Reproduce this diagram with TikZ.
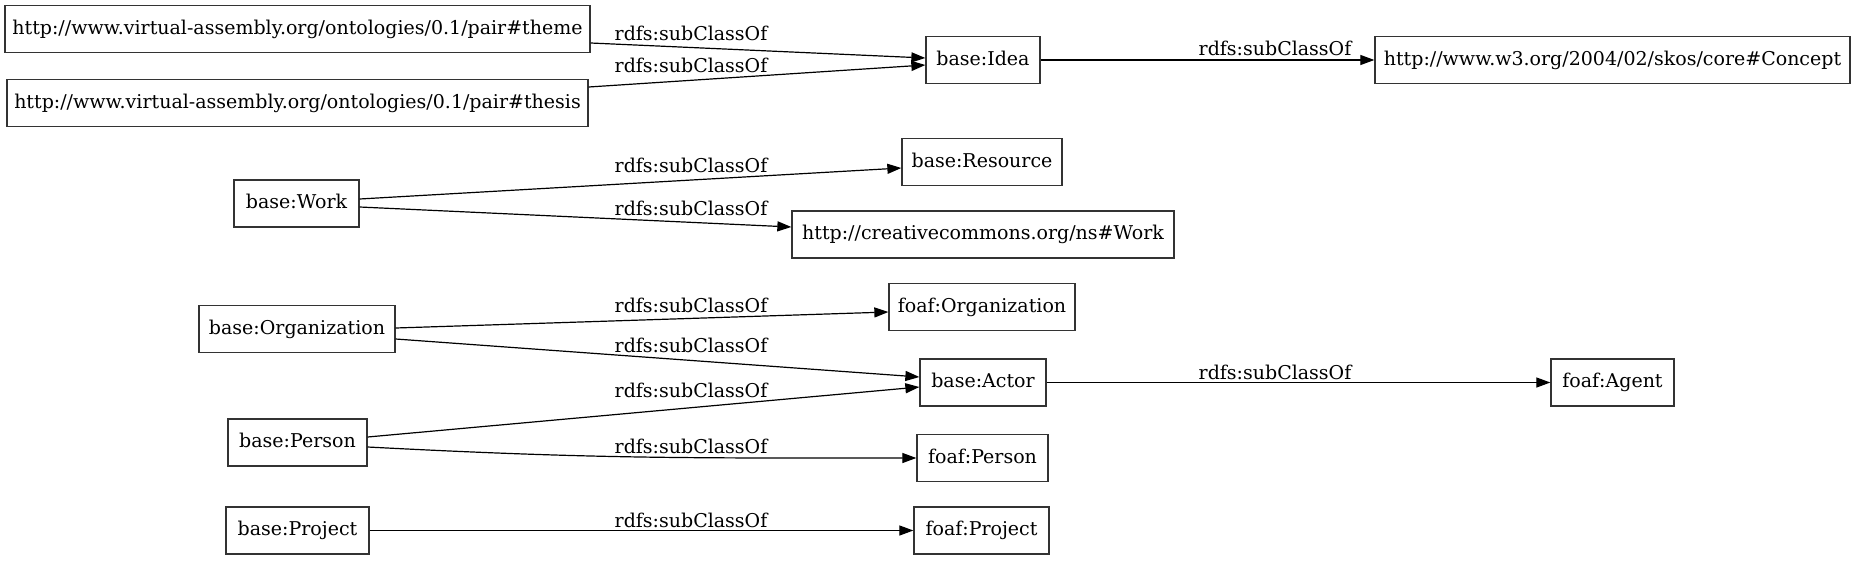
\documentclass[tikz,border=0pt]{standalone}
\usepackage{fontspec}
\setmainfont{DejaVu Serif}
\usepackage{tikz}
\usetikzlibrary{positioning, arrows.meta, calc}

\begin{document}
\begin{tikzpicture}[
                x=1pt, y=-1pt,
                cls/.style={
                    draw=black!80, line width=1.3pt,
                    rectangle, inner sep=0pt,
                    minimum height=47pt,
                    text height=14pt, text depth=4pt,
                    font=\fontsize{19}{22}\selectfont,
                    align=center
                },
                edgelabel/.style={
                    inner sep=0pt,
                    font=\fontsize{19}{22}\selectfont
                },
                subof/.style={
                    draw=black, line width=1.2pt,
                    -{Triangle[length=14pt, width=10pt]}
                }
            ]
            \useasboundingbox (0,0) rectangle (1856,560);

            % --- Klassen links ---
            \node[cls, minimum width=585pt] (theme) at (297.5,29) {http://www.virtual-assembly.org/ontologies/0.1/pair\#theme};
            \node[cls, minimum width=581pt] (thesis) at (297.5,103) {http://www.virtual-assembly.org/ontologies/0.1/pair\#thesis};
            \node[cls, minimum width=125pt] (work) at (296.5,203.5) {base:Work};
            \node[cls, minimum width=196pt] (org) at (297,329) {base:Organization};
            \node[cls, minimum width=139pt] (person) at (297.5,442.5) {base:Person};
            \node[cls, minimum width=143pt] (project) at (297.5,530.5) {base:Project};

            % --- Klassen mitte ---
            \node[cls, minimum width=114pt] (idea) at (983,60) {base:Idea};
            \node[cls, minimum width=160pt] (resource) at (982,162) {base:Resource};
            \node[cls, minimum width=382pt] (ccwork) at (983,234.5) {http://creativecommons.org/ns\#Work};
            \node[cls, minimum width=186pt] (foaforg) at (982,307) {foaf:Organization};
            \node[cls, minimum width=126pt] (actor) at (983,382.5) {base:Actor};
            \node[cls, minimum width=131pt] (foafperson) at (982.5,458) {foaf:Person};
            \node[cls, minimum width=135pt] (foafproject) at (981.5,530.5) {foaf:Project};

            % --- Klassen rechts ---
            \node[cls, minimum width=475pt] (concept) at (1612.5,60) {http://www.w3.org/2004/02/skos/core\#Concept};
            \node[cls, minimum width=123pt] (agent) at (1612.5,382.5) {foaf:Agent};

            % --- subClassOf Kanten ---
            \draw[subof] ([yshift=-14pt]theme.east) -- ([yshift=2pt]idea.west);
            \draw[subof] ([yshift=16pt]thesis.east) -- ([yshift=-5pt]idea.west);
            \draw[subof] (idea.east) -- (concept.west);
            \draw[subof] ([yshift=4.5pt]work.east) -- ([yshift=-6pt]resource.west);
            \draw[subof] ([yshift=-3.5pt]work.east) -- ([yshift=7.5pt]ccwork.west);
            \draw[subof] ([yshift=1pt]org.east) -- ([yshift=-5pt]foaforg.west);
            \draw[subof] ([yshift=-10pt]org.east) -- ([yshift=5.5pt]actor.west);
            \draw[subof] ([yshift=5.5pt]person.east) -- ([yshift=-4.5pt]actor.west);
            \draw[subof] ([yshift=-4.5pt]person.east) .. controls +(230pt,-12pt) and +(-230pt,0pt) .. (foafperson.west);
            \draw[subof] (project.east) -- (foafproject.west);
            \draw[subof] (actor.east) -- (agent.west);

            % --- Labels ---
            \node[edgelabel] (l1) at (691,33) {rdfs:subClassOf};
            \node[edgelabel] (l2) at (691,65) {rdfs:subClassOf};
            \node[edgelabel] (l3) at (1275,48) {rdfs:subClassOf};
            \node[edgelabel] (l4) at (691,165) {rdfs:subClassOf};
            \node[edgelabel] (l5) at (691,208) {rdfs:subClassOf};
            \node[edgelabel] (l6) at (691,305) {rdfs:subClassOf};
            \node[edgelabel] (l7) at (691,345) {rdfs:subClassOf};
            \node[edgelabel] (l8) at (691,390) {rdfs:subClassOf};
            \node[edgelabel] (l9) at (1275,372) {rdfs:subClassOf};
            \node[edgelabel] (l10) at (691,446) {rdfs:subClassOf};
            \node[edgelabel] (l11) at (691,520) {rdfs:subClassOf};

        \end{tikzpicture}
\end{document}
